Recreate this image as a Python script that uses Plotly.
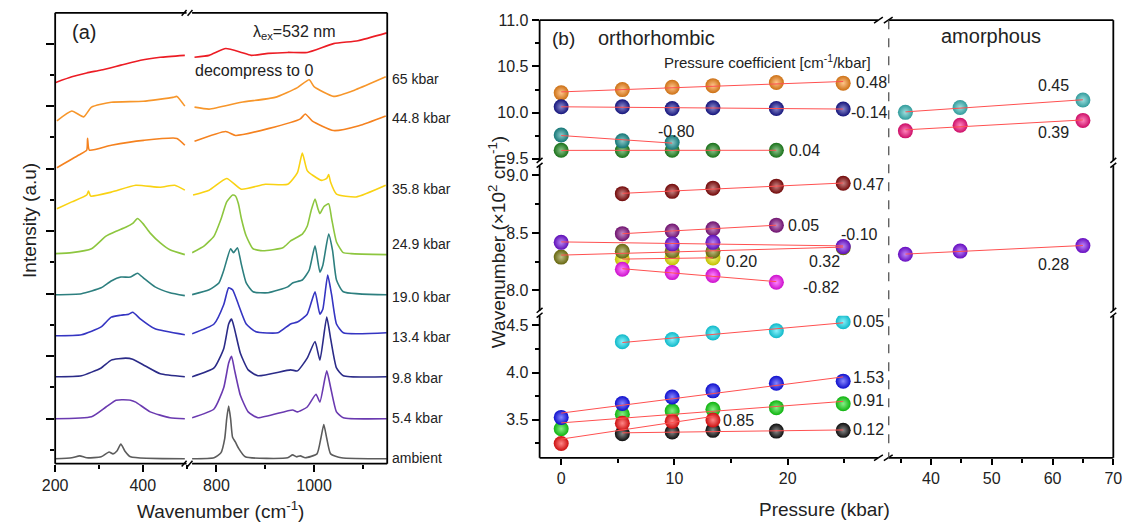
import numpy as np
import plotly.graph_objects as go

W, H = 1138, 531
def xp(px): return px / W
def yp(py): return 1 - py / H

FONT = "Liberation Sans, Arial, sans-serif"
TXT = "#222222"

# ================= Panel (a): Raman spectra (wavenumber, intensity a.u.) =================
pressure_labels = ["decompress to 0", "65 kbar", "44.8 kbar", "35.8 kbar", "24.9 kbar",
                   "19.0 kbar", "13.4 kbar", "9.8 kbar", "5.4 kbar", "ambient"]

dec_L_wn = [200, 238, 272, 305, 350, 395, 440, 496]
dec_L_int = [38.9, 39.5, 39.9, 40.2, 40.7, 41.2, 41.5, 41.7]
dec_R_wn = [755, 785, 819, 851, 871, 906, 946, 986, 1040, 1090, 1149]
dec_R_int = [41.5, 41.7, 42.4, 42.0, 41.7, 41.9, 42.0, 42.0, 42.9, 43.2, 44.0]

p65_L_wn = [204, 238, 265, 283, 328, 401, 469, 478, 496]
p65_L_int = [35.0, 36.0, 35.4, 36.4, 36.9, 37.0, 37.4, 37.5, 36.5]
p65_R_wn = [755, 785, 851, 920, 966, 990, 1000, 1040, 1086, 1147]
p65_R_int = [36.4, 36.2, 36.9, 37.4, 38.4, 39.2, 38.5, 37.5, 38.2, 39.5]

p448_L_wn = [204, 254, 272, 274, 278, 328, 402, 478, 496]
p448_L_int = [30.2, 31.5, 32.0, 33.2, 32.0, 32.5, 33.0, 33.2, 32.5]
p448_R_wn = [755, 819, 839, 906, 972, 982, 996, 1040, 1092, 1147]
p448_R_int = [32.9, 33.9, 33.5, 34.2, 35.2, 35.7, 35.0, 34.0, 34.5, 35.5]

p358_L_wn = [204, 238, 272, 276, 281, 328, 384, 440, 473, 496]
p358_L_int = [26.0, 26.7, 27.4, 27.8, 27.3, 27.7, 28.4, 28.2, 28.4, 27.9]
p358_R_wn = [752, 785, 821, 851, 900, 946, 966, 976, 986, 998, 1016, 1026, 1030, 1034, 1046, 1086, 1147]
p358_R_int = [27.4, 27.9, 29.1, 28.0, 28.5, 28.5, 29.7, 31.7, 29.9, 29.4, 28.9, 29.1, 29.5, 28.7, 27.5, 27.2, 28.4]

p249_L_wn = [200, 238, 283, 316, 339, 361, 377, 388, 400, 417, 440, 462, 496]
p249_L_int = [21.4, 21.5, 21.9, 23.2, 23.7, 24.1, 24.5, 25.0, 24.5, 23.5, 22.5, 21.8, 21.3]
p249_R_wn = [750, 775, 795, 809, 821, 833, 839, 845, 851, 861, 875, 895, 936, 952, 976, 986, 994,
             1002, 1008, 1012, 1020, 1030, 1036, 1046, 1060, 1076, 1149]
p249_R_int = [21.5, 22.2, 23.2, 24.9, 26.7, 27.4, 27.3, 26.5, 25.0, 23.2, 21.9, 21.7, 22.0, 22.7, 23.4,
              24.2, 25.8, 27.0, 26.0, 25.5, 26.2, 26.5, 25.0, 22.6, 21.5, 21.4, 21.3]

p190_L_wn = [200, 260, 305, 328, 350, 372, 388, 402, 428, 462, 496]
p190_L_int = [17.2, 17.3, 17.9, 18.6, 19.0, 19.0, 19.4, 18.9, 18.0, 17.4, 17.1]
p190_R_wn = [750, 785, 805, 815, 829, 835, 843, 851, 861, 875, 906, 946, 956, 976, 990, 1002,
             1012, 1018, 1030, 1038, 1046, 1060, 1149]
p190_R_int = [17.2, 17.7, 18.4, 19.7, 21.9, 21.5, 22.0, 20.3, 18.4, 17.5, 17.4, 18.0, 18.4, 18.7,
              19.7, 22.2, 19.5, 20.2, 23.4, 21.7, 18.7, 17.5, 17.2]

p134_L_wn = [200, 260, 305, 328, 350, 368, 377, 395, 428, 496]
p134_L_int = [13.0, 13.1, 13.9, 14.9, 15.1, 15.2, 15.4, 14.7, 13.7, 13.1]
p134_R_wn = [750, 795, 815, 825, 833, 845, 861, 881, 926, 952, 966, 986, 1002, 1012, 1018, 1028,
             1036, 1046, 1060, 1149]
p134_R_int = [13.2, 14.2, 16.2, 17.9, 17.7, 16.2, 14.2, 13.4, 13.3, 14.2, 14.4, 15.2, 17.5, 15.2,
              15.7, 19.2, 17.2, 14.2, 13.3, 13.3]

p98_L_wn = [200, 260, 305, 328, 361, 377, 406, 440, 496]
p98_L_int = [8.8, 8.9, 9.7, 10.5, 10.7, 10.6, 9.9, 9.1, 8.8]
p98_R_wn = [750, 795, 815, 825, 831, 837, 849, 865, 885, 952, 966, 986, 1002, 1012, 1026, 1034,
            1046, 1060, 1149]
p98_R_int = [8.8, 9.7, 11.7, 14.2, 14.7, 13.7, 11.2, 9.5, 8.9, 9.5, 9.4, 10.7, 12.4, 10.5, 14.9,
             12.7, 9.7, 8.9, 8.8]

p54_L_wn = [200, 283, 316, 339, 372, 384, 417, 462, 496]
p54_L_int = [4.5, 4.7, 5.7, 6.4, 6.4, 6.2, 5.2, 4.6, 4.5]
p54_R_wn = [750, 795, 815, 825, 831, 837, 849, 865, 885, 956, 966, 986, 1004, 1012, 1026, 1034,
            1046, 1060, 1149]
p54_R_int = [4.6, 5.5, 7.7, 10.2, 10.9, 9.5, 6.9, 5.2, 4.6, 5.4, 5.2, 5.7, 7.0, 6.2, 9.4, 7.7,
             5.2, 4.6, 4.5]

amb_L_wn = [200, 238, 256, 272, 305, 323, 332, 341, 350, 359, 372, 496]
amb_L_int = [0.4, 0.5, 0.7, 0.5, 0.6, 1.1, 0.9, 1.2, 1.9, 1.2, 0.6, 0.4]
amb_R_wn = [750, 795, 809, 817, 821, 825, 829, 833, 839, 845, 859, 946, 956, 964, 972, 982,
            1006, 1014, 1020, 1026, 1034, 1056, 1149]
amb_R_int = [0.4, 0.5, 1.0, 2.5, 4.5, 5.8, 4.5, 2.6, 2.1, 1.5, 0.6, 0.5, 0.8, 0.6, 0.7, 0.5,
             0.9, 2.5, 3.9, 2.5, 0.9, 0.5, 0.4]

spectra = [
    (dec_L_wn, dec_L_int, dec_R_wn, dec_R_int),
    (p65_L_wn, p65_L_int, p65_R_wn, p65_R_int),
    (p448_L_wn, p448_L_int, p448_R_wn, p448_R_int),
    (p358_L_wn, p358_L_int, p358_R_wn, p358_R_int),
    (p249_L_wn, p249_L_int, p249_R_wn, p249_R_int),
    (p190_L_wn, p190_L_int, p190_R_wn, p190_R_int),
    (p134_L_wn, p134_L_int, p134_R_wn, p134_R_int),
    (p98_L_wn, p98_L_int, p98_R_wn, p98_R_int),
    (p54_L_wn, p54_L_int, p54_R_wn, p54_R_int),
    (amb_L_wn, amb_L_int, amb_R_wn, amb_R_int),
]
spec_colors = ["#ec1c24", "#f7962a", "#f5821f", "#f9d213", "#8dc63f", "#2d7f7f",
               "#3535c2", "#2b2b88", "#6a3ab0", "#5c5c5c"]
spec_label_y = [None, 73, 113, 186, 242, 297, 338, 380, 421, 462]

# ================= Panel (b): peak positions vs pressure (x10^2 cm^-1) =================
orange_p = [0, 5.4, 9.8, 13.4, 19.0, 24.9]
orange_w = [10.214, 10.249, 10.274, 10.292, 10.326, 10.319]
navy_p = [0, 5.4, 9.8, 13.4, 19.0, 24.9]
navy_w = [10.063, 10.063, 10.045, 10.053, 10.045, 10.039]
dgreen_p = [0, 5.4, 9.8, 13.4, 19.0]
dgreen_w = [9.593, 9.590, 9.593, 9.593, 9.593]
teal_p = [0, 5.4, 9.8]
teal_w = [9.758, 9.695, 9.677]
dred_p = [5.4, 9.8, 13.4, 19.0, 24.9]
dred_w = [8.842, 8.862, 8.890, 8.907, 8.932]
purple_p = [5.4, 9.8, 13.4, 19.0]
purple_w = [8.494, 8.517, 8.536, 8.568]
yellow_p = [5.4, 9.8, 13.4]
yellow_w = [8.271, 8.282, 8.282]
olive_p = [0, 5.4, 9.8, 13.4, 24.9]
olive_w = [8.290, 8.341, 8.341, 8.341, 8.372]
violet_p = [0, 9.8, 13.4, 24.9]
violet_w = [8.418, 8.404, 8.418, 8.381]
magenta_p = [5.4, 9.8, 13.4, 19.0]
magenta_w = [8.184, 8.155, 8.130, 8.071]
cyan_p = [5.4, 9.8, 13.4, 19.0, 24.9]
cyan_w = [4.327, 4.351, 4.420, 4.443, 4.539]
green_p = [0, 5.4, 9.8, 13.4, 19.0, 24.9]
green_w = [3.405, 3.560, 3.595, 3.611, 3.629, 3.670]
blue_p = [0, 5.4, 9.8, 13.4, 19.0, 24.9]
blue_w = [3.526, 3.673, 3.742, 3.807, 3.887, 3.910]
black_p = [5.4, 9.8, 13.4, 19.0, 24.9]
black_w = [3.354, 3.371, 3.389, 3.381, 3.389]
red_p = [0, 5.4, 9.8, 13.4]
red_w = [3.250, 3.464, 3.485, 3.498]
am_teal_p = [35.8, 44.8, 65.0]
am_teal_w = [10.003, 10.056, 10.137]
am_pink_p = [35.8, 44.8, 65.0]
am_pink_w = [9.803, 9.863, 9.916]
am_violet_p = [35.8, 44.8, 65.0]
am_violet_w = [8.314, 8.342, 8.390]

coef_labels = ["0.48", "-0.14", "0.04", "-0.80", "0.47", "0.05", "0.20", "0.32", "-0.10", "-0.82",
               "0.05", "0.91", "1.53", "0.12", "0.85", "0.45", "0.39", "0.28"]

# series: (p, w, color, x-axis, y-axis)
series = [
    (orange_p, orange_w, "#ff8c1a", "x3", "y2"),
    (navy_p, navy_w, "#18189a", "x3", "y2"),
    (dgreen_p, dgreen_w, "#1e8c1e", "x3", "y2"),
    (teal_p, teal_w, "#1a9494", "x3", "y2"),
    (dred_p, dred_w, "#8e0a0a", "x3", "y3"),
    (purple_p, purple_w, "#8a168a", "x3", "y3"),
    (yellow_p, yellow_w, "#f2f000", "x3", "y3"),
    (olive_p, olive_w, "#808012", "x3", "y3"),
    (violet_p, violet_w, "#7612e6", "x3", "y3"),
    (magenta_p, magenta_w, "#ff12ff", "x3", "y3"),
    (cyan_p, cyan_w, "#12e6fa", "x3", "y4"),
    (green_p, green_w, "#12e012", "x3", "y4"),
    (blue_p, blue_w, "#1212ff", "x3", "y4"),
    (black_p, black_w, "#121212", "x3", "y4"),
    (red_p, red_w, "#ff1212", "x3", "y4"),
    (am_teal_p, am_teal_w, "#3ec2c2", "x4", "y2"),
    (am_pink_p, am_pink_w, "#ff1080", "x4", "y2"),
    (am_violet_p, am_violet_w, "#8010f0", "x4", "y3"),
]
# coefficient label positions (pixels)
coef_pos = [(875, 77), (873, 107), (807, 146), (677, 127), (872, 181), (806, 223), (743, 260),
            (828, 260), (863, 233), (824, 287), (872, 322), (872, 403), (872, 380), (872, 433),
            (740, 424), (1061, 80), (1061, 128), (1061, 263)]


def mix(hexc, f, target=255):
    h = hexc.lstrip("#")
    r, g, b = int(h[0:2], 16), int(h[2:4], 16), int(h[4:6], 16)
    r, g, b = [int(c + (target - c) * f) for c in (r, g, b)]
    return "#%02x%02x%02x" % (r, g, b)


fig = go.Figure()

# ---- panel (a) traces ----
for (lw, li, rw, ri), col in zip(spectra, spec_colors):
    fig.add_trace(go.Scatter(x=lw, y=li, xaxis="x", yaxis="y", mode="lines",
                             line=dict(color=col, width=1.6, shape="spline", smoothing=0.5),
                             showlegend=False, hoverinfo="skip"))
    fig.add_trace(go.Scatter(x=rw, y=ri, xaxis="x2", yaxis="y", mode="lines",
                             line=dict(color=col, width=1.6, shape="spline", smoothing=0.5),
                             showlegend=False, hoverinfo="skip"))

# ---- panel (b) traces ----
for p, w, col, xa, ya in series:
    fig.add_trace(go.Scatter(x=p, y=w, xaxis=xa, yaxis=ya, mode="markers",
                             marker=dict(size=15, color=mix(col, 0.2, 0), line=dict(width=0),
                                         gradient=dict(type="radial", color=mix(col, 0.5))),
                             showlegend=False, hoverinfo="skip"))
for p, w, col, xa, ya in series:
    k = np.polyfit(p, w, 1)
    xs = np.array([min(p), max(p)])
    fig.add_trace(go.Scatter(x=xs, y=np.polyval(k, xs), xaxis=xa, yaxis=ya, mode="lines",
                             line=dict(color="#ff5050", width=1),
                             showlegend=False, hoverinfo="skip"))

# ---- axes ----
tickfont = dict(family=FONT, size=16, color=TXT)
common = dict(showline=False, zeroline=False, showgrid=False, ticks="outside",
              tickcolor="black", tickwidth=1.5, tickfont=tickfont)

# panel (a)
fig.update_layout(
    xaxis=dict(domain=[xp(43), xp(177)], range=[200, 500], anchor="y", tickmode="linear",
               tick0=200, dtick=200, ticklen=7,
               minor=dict(ticks="outside", ticklen=4, dtick=100, tick0=200, tickcolor="black"),
               **common),
    xaxis2=dict(domain=[xp(182.6), xp(381.6)], range=[750, 1150], anchor="y", tickmode="linear",
                tick0=800, dtick=200, ticklen=7,
                minor=dict(ticks="outside", ticklen=4, dtick=100, tick0=800, tickcolor="black"),
                **common),
    yaxis=dict(domain=[yp(468), yp(5)], range=[-0.1, 46.05], anchor="x", tickmode="linear",
               tick0=4.5, dtick=6.4, ticklen=8, showticklabels=False,
               minor=dict(ticks="outside", ticklen=4, dtick=3.2, tick0=1.3, tickcolor="black"),
               **common),
)
# panel (b)
fig.update_layout(
    xaxis3=dict(domain=[xp(537), xp(882)], range=[-1.905, 27.97], anchor="y4", tickmode="linear",
                tick0=0, dtick=10, ticklen=6,
                minor=dict(ticks="outside", ticklen=4, dtick=5, tick0=0, tickcolor="black"),
                **common),
    xaxis4=dict(domain=[xp(893), xp(1122)], range=[33.06, 70.0], anchor="y4", tickmode="linear",
                tick0=40, dtick=10, ticklen=6,
                minor=dict(ticks="outside", ticklen=4, dtick=5, tick0=35, tickcolor="black"),
                **common),
    yaxis2=dict(domain=[yp(158), yp(12.5)], range=[9.468, 11.0], anchor="x3", tickmode="linear",
                tick0=9.5, dtick=0.5, tickformat=".1f", ticklen=7,
                minor=dict(ticks="outside", ticklen=4, dtick=0.25, tick0=9.5, tickcolor="black"),
                **common),
    yaxis3=dict(domain=[yp(312), yp(164)], range=[7.814, 9.068], anchor="x3", tickmode="linear",
                tick0=8.0, dtick=0.5, tickformat=".1f", ticklen=7,
                minor=dict(ticks="outside", ticklen=4, dtick=0.25, tick0=8.0, tickcolor="black"),
                **common),
    yaxis4=dict(domain=[yp(462), yp(316)], range=[3.098, 4.603], anchor="x3", tickmode="linear",
                tick0=3.5, dtick=0.5, tickformat=".1f", ticklen=7,
                minor=dict(ticks="outside", ticklen=4, dtick=0.25, tick0=3.5, tickcolor="black"),
                **common),
)

# ---- frames & break marks ----
shapes = []
LW = 1.8
def seg(x0, y0, x1, y1, color="black", width=LW, dash=None):
    shapes.append(dict(type="line", xref="paper", yref="paper", x0=xp(x0), y0=yp(y0),
                       x1=xp(x1), y1=yp(y1), line=dict(color=color, width=width, dash=dash)))

# panel (a)
seg(43, 5, 43, 468); seg(381.6, 5, 381.6, 468)
for yy in (5, 468):
    seg(43, yy, 177, yy); seg(182.6, yy, 381.6, yy)
    seg(172, yy + 3, 177, yy - 3, width=1.5); seg(178, yy + 3, 183, yy - 3, width=1.5)
# panel (b)
for xx in (537, 1122):
    seg(xx, 12.5, xx, 157); seg(xx, 162, xx, 311); seg(xx, 316, xx, 462)
    for yb in (157, 311):
        seg(xx - 3, yb + 2, xx + 3, yb - 3, width=1.5)
        seg(xx - 3, yb + 7, xx + 3, yb + 2, width=1.5)
for yy in (12.5, 462):
    seg(537, yy, 882, yy); seg(893, yy, 1122, yy)
    seg(878, yy + 3, 887, yy - 3, width=1.5); seg(888, yy + 3, 897, yy - 3, width=1.5)
seg(893, 12.5, 893, 462, color="#555555", width=1.3, dash="dash")
fig.update_layout(shapes=shapes)

# ---- annotations ----
ann = []
def txt(x, y, s, size=16, xanchor="center", angle=0, color=TXT):
    ann.append(dict(x=xp(x), y=yp(y), xref="paper", yref="paper", text=s, showarrow=False,
                    xanchor=xanchor, yanchor="middle", textangle=angle,
                    font=dict(family=FONT, size=size, color=color)))

txt(72, 25, "(a)", size=20)
txt(287, 25, "λ<sub>ex</sub>=532 nm", size=16)
txt(246, 64, pressure_labels[0], size=16)
for lab, ly in zip(pressure_labels[1:], spec_label_y[1:]):
    txt(384, ly, lab, size=14, xanchor="left")
txt(212, 516, "Wavenumber (cm<sup>-1</sup>)", size=19)
txt(17, 218, "Intensity (a.u)", size=19, angle=-90)

txt(561, 31, "(b)", size=19)
txt(656, 31, "orthorhombic", size=20)
txt(769, 55, "Pressure coefficient [cm<sup>-1</sup>/kbar]", size=15)
txt(997, 29, "amorphous", size=20)
for lab, (lx, ly) in zip(coef_labels, coef_pos):
    txt(lx, ly, lab, size=16)
txt(827, 515, "Pressure (kbar)", size=19)
txt(493, 240, "Wavenumber (×10<sup>2</sup> cm<sup>-1</sup>)", size=19, angle=-90)
fig.update_layout(annotations=ann)

fig.update_layout(width=W, height=H, margin=dict(l=0, r=0, t=0, b=0),
                  paper_bgcolor="white", plot_bgcolor="white", showlegend=False)

fig.write_html("out.html")
